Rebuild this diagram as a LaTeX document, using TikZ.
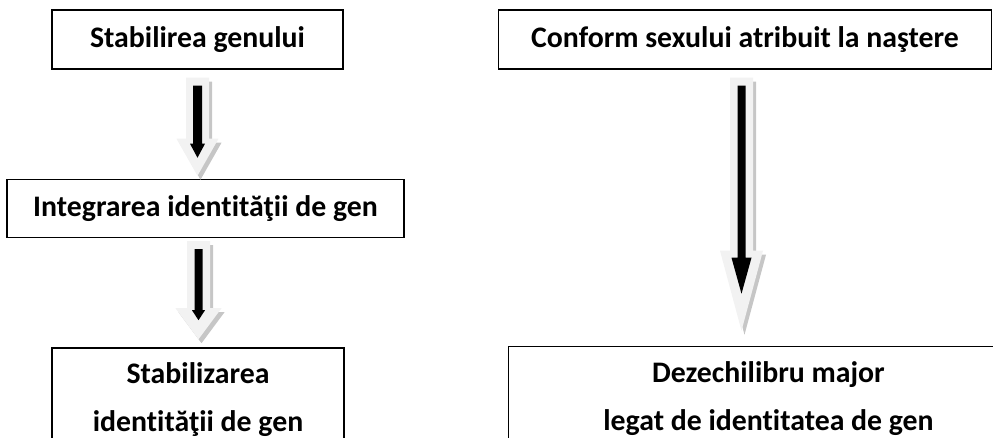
\documentclass[tikz,border=0pt]{standalone}
\usepackage{fontspec}
\setmainfont[RawFeature={-liga}]{Carlito}
\usetikzlibrary{calc,positioning}
\tikzset{
  stage/.style={ % box around one stage
    draw, rectangle, line width=1.5pt, inner sep=0pt,
    font=\bfseries\fontsize{29.8}{48}\selectfont, align=center, text=black
  },
  palearrow/.style={fill=gray!10},   % outer pale arrow
  arrowshadow/.style={fill=gray!45}, % its shadow
  corearrow/.style={fill=black}      % black arrow inside
}
% block arrow pointing down: top point, length, head length, half shaft, half head, style
\newcommand{\blockarrow}[6]{%
  \path[#6] (#1) ++(-#4,0) -- ++(0,{-(#2-#3)}) -- ++({#4-#5},0) -- ++(#5,-#3)
    -- ++(#5,#3) -- ++({#4-#5},0) -- ++(0,{#2-#3}) -- cycle;
}
% shadow, pale arrow and black arrow in one go
\newcommand{\stagearrow}[9]{%
  \blockarrow{$(#1)+(3,-4)$}{#2}{#3}{#4}{#5}{arrowshadow}
  \blockarrow{#1}{#2}{#3}{#4}{#5}{palearrow}
  \blockarrow{$(#1)+(0,-8)$}{#6}{#7}{#8}{#9}{corearrow}
}
\begin{document}
\begin{tikzpicture}[x=1pt, y=1pt]
  \useasboundingbox (0,0) rectangle (993,438);
  \clip (0,0) rectangle (993,438);

  \node[stage, minimum width=291pt, minimum height=59pt] (genre) at (197.5,398.5) {Stabilirea genului};
  \node[stage, minimum width=493pt, minimum height=59pt, right=154pt of genre] (conform) {Conform sexului atribuit la naştere};
  \node[stage, minimum width=397pt, minimum height=58pt, below=109pt of genre, xshift=8pt] (integr) {Integrarea identităţii de gen};
  \node[stage, minimum width=292pt, inner ysep=15pt, below=109pt of integr, xshift=-7.5pt] (stab)
    {Stabilizarea\\identităţii de gen\rule[-60pt]{0pt}{0pt}};
  \node[stage, minimum width=520pt, inner ysep=15pt, below=276pt of conform, xshift=23.5pt] (dezech)
    {Dezechilibru major\\legat de identitatea de gen\rule[-60pt]{0pt}{0pt}};

  \coordinate (a1) at ($(genre.south)+(0,-8)$);
  \coordinate (a2) at ($(stab.north)+(0.5,106)$);
  \coordinate (a3) at ($(conform.south)+(-3.5,-8)$);

  \stagearrow{a1}{98}{37}{11.5}{21}{72}{14}{4.5}{7.5}
  \stagearrow{a2}{98}{31}{11.5}{23}{71}{10}{4}{6.5}
  \stagearrow{a3}{253}{80}{11.5}{21.5}{208}{36}{4}{10}
\end{tikzpicture}
\end{document}
